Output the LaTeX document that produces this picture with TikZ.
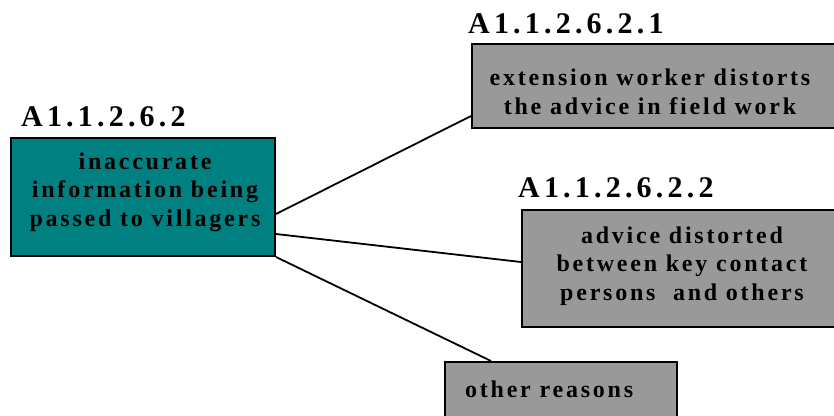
\documentclass[tikz,border=0pt]{standalone}
\usepackage{fontspec}
\setmainfont{Liberation Serif}
\newfontfamily\boxfont{Liberation Serif}[LetterSpace=11.5]
\newfontfamily\tagfont{Liberation Serif}[LetterSpace=14]
\usetikzlibrary{calc}
\definecolor{causefill}{HTML}{008080}
\definecolor{subfill}{HTML}{999999}
\begin{document}
\begin{tikzpicture}[x=1pt,y=-1pt,
  box/.style={draw=black, line width=2pt, rectangle, inner sep=0pt},
  boxtext/.style={font=\boxfont\bfseries\fontsize{24}{28.5}\selectfont,
                  align=center, inner sep=0pt, anchor=base},
  tag/.style={font=\tagfont\bfseries\fontsize{30}{36}\selectfont,
              inner sep=0pt, anchor=base west},
  link/.style={draw=black, line width=1.8pt}]
\useasboundingbox (0,0) rectangle (834,415);
\begin{scope}
  \clip (0,0) rectangle (834,415);
  % boxes (the right-hand ones run off the page edge)
  \node (main) [box, fill=causefill, minimum width=264pt, minimum height=118pt] at (143,197) {};
  \node (b1) [box, fill=subfill, minimum width=428pt, minimum height=84pt] at (686,86) {};
  \node (b2) [box, fill=subfill, minimum width=378pt, minimum height=117pt] at (711,268.5) {};
  \node (b3) [box, fill=subfill, minimum width=232pt, minimum height=78pt] at (561,401) {};
\end{scope}

% connectors from the cause to its sub-causes
\draw[link] ($(main.north east)+(0,77)$) -- ($(b1.south west)+(0,-13)$);
\draw[link] ($(main.north east)+(0,97)$) -- ($(b2.north west)+(0,53)$);
\draw[link] (main.south east) -- ($(b3.north west)+(47,0)$);

% box texts (base anchor sits on the last line)
\node (maintext) [boxtext] at (145,226) {inaccurate\\information being\\passed to villagers};
\node (b1text) [boxtext] at (650,114) {extension worker distorts\\the advice in field work};
\node (b2text) [boxtext] at (682,300) {advice distorted\\between key contact\\persons~ and others};
\node (b3text) [boxtext, anchor=base west] at (465,397) {other reasons};

% reference codes
\node (tag0) [tag] at (21,126) {A1.1.2.6.2};
\node (tag1) [tag] at (468,33) {A1.1.2.6.2.1};
\node (tag2) [tag] at (518,197) {A1.1.2.6.2.2};
\end{tikzpicture}
\end{document}
